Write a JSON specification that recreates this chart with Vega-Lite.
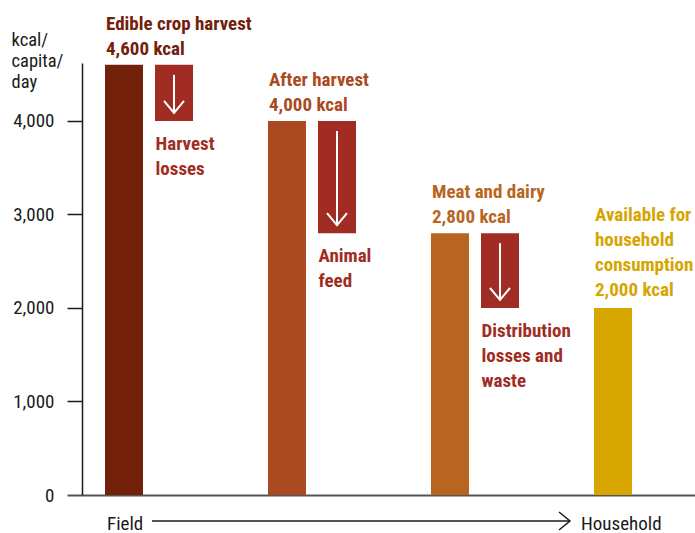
{
  "$schema": "https://vega.github.io/schema/vega-lite/v6.json",
  "width": 613,
  "height": 432,
  "autosize": {"type": "none"},
  "padding": {"left": 82, "top": 63, "right": 0, "bottom": 38},
  "background": "white",
  "config": {
    "view": {"stroke": null},
    "font": "'Roboto Condensed', 'Noto Sans Condensed', 'Open Sans Condensed', 'Liberation Sans Narrow', Roboto, sans-serif"
  },
  "datasets": {
    "stages": [
      {"stage": "Edible crop harvest", "kind": "supply", "item": "Edible crop harvest", "top": 4600, "bottom": 0, "label": "Edible crop harvest\n4,600 kcal"},
      {"stage": "Edible crop harvest", "kind": "loss", "item": "Harvest losses", "top": 4600, "bottom": 4000, "label": "Harvest\nlosses"},
      {"stage": "After harvest", "kind": "supply", "item": "After harvest", "top": 4000, "bottom": 0, "label": "After harvest\n4,000 kcal"},
      {"stage": "After harvest", "kind": "loss", "item": "Animal feed", "top": 4000, "bottom": 2800, "label": "Animal\nfeed"},
      {"stage": "Meat and dairy", "kind": "supply", "item": "Meat and dairy", "top": 2800, "bottom": 0, "label": "Meat and dairy\n2,800 kcal"},
      {"stage": "Meat and dairy", "kind": "loss", "item": "Distribution losses and waste", "top": 2800, "bottom": 2000, "label": "Distribution\nlosses and\nwaste"},
      {"stage": "Available for household consumption", "kind": "supply", "item": "Available for household consumption", "top": 2000, "bottom": 0, "label": "Available for\nhousehold\nconsumption\n2,000 kcal"}
    ],
    "flow": [
      {"from": "Edible crop harvest", "to": "Available for household consumption", "start": "Field", "end": "Household"}
    ]
  },
  "layer": [
    {
      "data": {"name": "stages"},
      "mark": {"type": "bar"},
      "encoding": {
        "x": {"field": "stage", "type": "nominal", "sort": null,
          "scale": {"domain": ["Edible crop harvest", "After harvest", "Meat and dairy", "Available for household consumption"], "paddingInner": 0.46, "paddingOuter": 0.1104, "align": 0.639, "round": false},
          "axis": {"title": null, "labels": false, "ticks": false, "domain": true, "domainColor": "#555555", "domainWidth": 2}},
        "xOffset": {"field": "kind", "type": "nominal", "scale": {"domain": ["supply", "loss"], "paddingInner": 0.24, "paddingOuter": 0, "round": false}},
        "y": {"field": "top", "type": "quantitative",
          "scale": {"domain": [0, 4620], "nice": false, "zero": true},
          "axis": {"title": ["kcal/", "capita/", "day"], "titleAngle": 0, "titleAlign": "left", "titleBaseline": "top", "titleX": -71, "titleY": -33, "titleFontWeight": "normal", "titleFontSize": 18.5, "titleLineHeight": 21, "titleColor": "#1a1a1a", "values": [0, 1000, 2000, 3000, 4000], "format": ",.0f", "labelFontSize": 19, "labelColor": "#1a1a1a", "labelPadding": 13, "tickSize": 15, "tickColor": {"condition": {"test": "datum.value === 0", "value": "#555555"}, "value": "#1a1a1a"}, "tickWidth": {"condition": {"test": "datum.value === 0", "value": 2}, "value": 1.5}, "domainColor": "#1a1a1a", "domainWidth": 1.5, "grid": false}},
        "y2": {"field": "bottom"},
        "color": {"field": "item", "type": "nominal", "legend": null,
          "scale": {"domain": ["Edible crop harvest", "Harvest losses", "After harvest", "Animal feed", "Meat and dairy", "Distribution losses and waste", "Available for household consumption"],
            "range": ["#72200A", "#A02C23", "#AB4921", "#A02C23", "#B86521", "#A02C23", "#D6A500"]}}
      }
    },
    {
      "data": {"name": "stages"},
      "transform": [{"filter": "datum.kind === 'loss'"}],
      "mark": {"type": "rule", "color": "white", "strokeWidth": 2, "yOffset": 10, "y2Offset": -8},
      "encoding": {
        "x": {"field": "stage", "type": "nominal"},
        "xOffset": {"field": "kind", "type": "nominal"},
        "y": {"field": "top", "type": "quantitative"},
        "y2": {"field": "bottom"}
      }
    },
    {
      "data": {"name": "stages"},
      "transform": [{"filter": "datum.kind === 'loss'"}],
      "mark": {"type": "point", "shape": "M-1,-1.2L0,0L1,-1.2", "size": 400, "filled": false, "stroke": "white", "strokeWidth": 2, "opacity": 1, "yOffset": -8},
      "encoding": {
        "x": {"field": "stage", "type": "nominal"},
        "xOffset": {"field": "kind", "type": "nominal"},
        "y": {"field": "bottom", "type": "quantitative"}
      }
    },
    {
      "data": {"name": "stages"},
      "transform": [{"filter": "datum.kind === 'supply' && datum.stage !== 'Available for household consumption'"}],
      "mark": {"type": "text", "align": "left", "baseline": "alphabetic", "dx": -18, "dy": -35, "lineBreak": "\n", "lineHeight": 25, "fontSize": 19, "fontWeight": "bold"},
      "encoding": {
        "x": {"field": "stage", "type": "nominal"},
        "xOffset": {"field": "kind", "type": "nominal"},
        "y": {"field": "top", "type": "quantitative"},
        "text": {"field": "label"},
        "color": {"field": "item", "type": "nominal", "legend": null}
      }
    },
    {
      "data": {"name": "stages"},
      "transform": [{"filter": "datum.stage === 'Available for household consumption'"}],
      "mark": {"type": "text", "align": "left", "baseline": "alphabetic", "dx": -18, "dy": -86.5, "lineBreak": "\n", "lineHeight": 25, "fontSize": 19, "fontWeight": "bold"},
      "encoding": {
        "x": {"field": "stage", "type": "nominal"},
        "xOffset": {"field": "kind", "type": "nominal"},
        "y": {"field": "top", "type": "quantitative"},
        "text": {"field": "label"},
        "color": {"field": "item", "type": "nominal", "legend": null}
      }
    },
    {
      "data": {"name": "stages"},
      "transform": [{"filter": "datum.kind === 'loss'"}],
      "mark": {"type": "text", "align": "left", "baseline": "top", "dx": -18.5, "dy": 14, "lineBreak": "\n", "lineHeight": 25, "fontSize": 19, "fontWeight": "bold"},
      "encoding": {
        "x": {"field": "stage", "type": "nominal"},
        "xOffset": {"field": "kind", "type": "nominal"},
        "y": {"field": "bottom", "type": "quantitative"},
        "text": {"field": "label"},
        "color": {"field": "item", "type": "nominal", "legend": null}
      }
    },
    {
      "data": {"name": "flow"},
      "mark": {"type": "text", "align": "left", "baseline": "alphabetic", "dx": -42, "dy": 34.5, "fontSize": 19, "color": "#1a1a1a"},
      "encoding": {
        "x": {"field": "from", "type": "nominal", "title": null},
        "y": {"datum": 0},
        "text": {"field": "start"}
      }
    },
    {
      "data": {"name": "flow"},
      "mark": {"type": "text", "align": "left", "baseline": "alphabetic", "dx": -57, "dy": 34.5, "fontSize": 19, "color": "#1a1a1a"},
      "encoding": {
        "x": {"field": "to", "type": "nominal", "title": null},
        "y": {"datum": 0},
        "text": {"field": "end"}
      }
    },
    {
      "data": {"name": "flow"},
      "mark": {"type": "rule", "color": "#1a1a1a", "strokeWidth": 1.5, "xOffset": 3, "x2Offset": -68, "yOffset": 26},
      "encoding": {
        "x": {"field": "from", "type": "nominal", "title": null},
        "x2": {"field": "to"},
        "y": {"datum": 0}
      }
    },
    {
      "data": {"name": "flow"},
      "mark": {"type": "point", "shape": "M-1.1,-0.9L0,0L-1.1,0.9", "size": 400, "filled": false, "stroke": "#1a1a1a", "strokeWidth": 1.5, "opacity": 1, "xOffset": -68, "yOffset": 26},
      "encoding": {
        "x": {"field": "to", "type": "nominal", "title": null},
        "y": {"datum": 0}
      }
    }
  ]
}
